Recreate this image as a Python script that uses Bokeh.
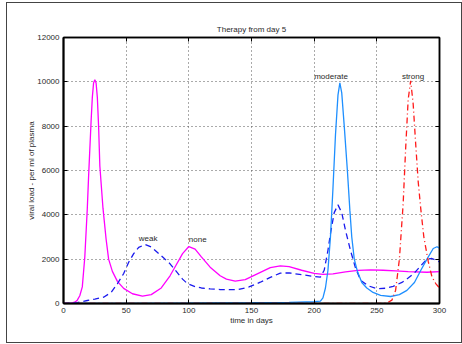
from bokeh.plotting import figure
from bokeh.models import LinearAxis, FixedTicker, ColumnDataSource, Range1d, CustomJSTickFormatter
from bokeh.core.properties import value
from bokeh.embed import file_html
from bokeh.resources import INLINE

# ---- data ----
none_day = [0, 5, 9, 11, 13, 15, 17, 19, 20, 22, 23, 24, 25, 26, 27, 28, 29, 31.5, 34, 36, 39, 43, 48, 55, 63,
            70, 78, 85, 90, 95, 100, 105, 110, 117, 125, 130, 137, 145, 155, 165, 173, 180, 190, 200, 207, 215,
            225, 235, 245, 255, 265, 275, 290, 300]
none_val = [0, 10, 60, 150, 350, 750, 2100, 4300, 5700, 8200, 9300, 9950, 10100, 9950, 9300, 8000, 6200, 4300,
            2900, 2000, 1450, 1000, 680, 440, 330, 400, 700, 1250, 1750, 2250, 2570, 2450, 2100, 1640, 1250, 1100,
            1010, 1080, 1350, 1620, 1700, 1660, 1500, 1360, 1310, 1340, 1430, 1490, 1520, 1500, 1470, 1440, 1410,
            1440]

weak_day = [0, 10, 19, 25, 32, 38, 43, 48, 52, 56, 60, 65, 70, 75, 80, 85, 90, 95, 99, 105, 110, 117, 125,
            139, 148, 157, 165, 173, 180, 190, 200, 205, 208, 211, 213, 216, 219, 222, 225, 229, 233, 237,
            243, 250, 257, 263, 270, 275, 280, 285, 290, 294, 300]
weak_val = [0, 30, 135, 200, 285, 500, 890, 1350, 1860, 2250, 2530, 2660, 2550, 2300, 2050, 1790, 1450, 1100,
            890, 760, 700, 660, 630, 620, 750, 960, 1180, 1370, 1380, 1300, 1220, 1190, 1500, 2400, 3150, 4100,
            4450, 4100, 3300, 2390, 1600, 1050, 800, 670, 690, 770, 950, 1150, 1380, 1700, 2000, 2030, 1880]

mod_day = [0, 50, 100, 150, 180, 200, 205, 207, 209, 211, 213, 215, 217, 219, 220.5, 222, 224, 226.5, 228.5,
           230, 232, 234.5, 238, 242, 247, 253, 261, 268, 274, 280, 285, 290, 295, 298, 300]
mod_val = [0, 10, 20, 35, 50, 80, 110, 250, 700, 1500, 3000, 5200, 7600, 9400, 9950, 9500, 8000, 6000, 4200,
           3000, 2000, 1450, 950, 700, 500, 370, 316, 400, 590, 950, 1490, 2000, 2480, 2560, 2500]

strong_day = [0, 100, 200, 250, 258, 262, 265, 268, 271, 273, 275, 277, 279, 281, 283, 285, 287.5, 291, 294,
              297, 300]
strong_val = [0, 0, 0, 0, 20, 150, 600, 2000, 4500, 7000, 9200, 10050, 9000, 7200, 5500, 4300, 3000, 1900,
              1200, 900, 700]

label_x = [60, 100, 200, 270]
label_y = [2950, 2900, 10250, 10250]
label_text = ["weak", "none", "moderate", "strong"]

x_ticks = [0, 50, 100, 150, 200, 250, 300]
y_ticks = [0, 2000, 4000, 6000, 8000, 10000, 12000]

FONT = "Liberation Sans"
TXT = "#2a2a2a"

p = figure(width=454, height=339, output_backend="svg", toolbar_location=None,
           x_range=Range1d(0, 300), y_range=Range1d(0, 12000),
           title="Therapy from day 5",
           min_border_left=56, min_border_right=22, min_border_top=34, min_border_bottom=39)
p.frame_width = 376
p.frame_height = 266
p.styles = {"border": "1px solid #444", "margin-left": "6px", "margin-top": "2px"}
p.background_fill_color = "white"
p.border_fill_color = "white"
p.outline_line_color = "black"
p.outline_line_width = 1.5

p.title.align = "center"
p.title.text_font = FONT
p.title.text_font_size = "8px"
p.title.text_font_style = "normal"
p.title.text_color = TXT
p.title.standoff = 7

for ax in (p.xaxis[0], p.yaxis[0]):
    ax.axis_line_color = "black"
    ax.axis_line_width = 2
    ax.major_tick_in = 4
    ax.major_tick_out = 0
    ax.minor_tick_line_color = None
    ax.major_tick_line_color = "black"
    ax.major_label_text_font = FONT
    ax.major_label_text_font_size = "8px"
    ax.major_label_text_color = TXT
    ax.axis_label_text_font = FONT
    ax.axis_label_text_font_size = "8px"
    ax.axis_label_text_font_style = "normal"
    ax.axis_label_text_color = TXT

p.xaxis[0].ticker = FixedTicker(ticks=x_ticks)
p.yaxis[0].ticker = FixedTicker(ticks=y_ticks)
p.xaxis[0].axis_label = "time in days"
p.yaxis[0].axis_label = "viral load - per ml of plasma"
p.xaxis[0].major_label_standoff = 4
p.yaxis[0].major_label_standoff = 4
p.xaxis[0].axis_label_standoff = 0
p.yaxis[0].axis_label_standoff = -2

blank = CustomJSTickFormatter(code="return ''")
for loc, tick in (("right", y_ticks), ("above", x_ticks)):
    ax = LinearAxis(ticker=FixedTicker(ticks=tick), formatter=blank)
    ax.axis_line_color = "black"
    ax.axis_line_width = 1.5
    ax.major_tick_in = 4
    ax.major_tick_out = 0
    ax.minor_tick_line_color = None
    ax.major_label_text_font_size = "1px"
    ax.major_label_standoff = 0
    p.add_layout(ax, loc)

for g in (p.xgrid[0], p.ygrid[0]):
    g.ticker = FixedTicker(ticks=x_ticks) if g is p.xgrid[0] else FixedTicker(ticks=y_ticks)
    g.grid_line_color = "#555555"
    g.grid_line_dash = "1 3"
    g.grid_line_width = 1

p.line(none_day, none_val, line_color="#ff00ff", line_width=1.3)
p.line(weak_day, weak_val, line_color="#1a1aee", line_width=1.3, line_dash="6 4")
p.line(mod_day, mod_val, line_color="#1e8fff", line_width=1.3)
p.line(strong_day, strong_val, line_color="#ff1a1a", line_width=1.3, line_dash="6 3 1 3")

src = ColumnDataSource(dict(x=label_x, y=label_y, t=label_text))
p.text(x="x", y="y", text="t", source=src, text_font=value(FONT), text_font_size="8px",
       text_color=TXT, text_align="left", text_baseline="middle")

open("out.html", "w").write(file_html(p, INLINE))
